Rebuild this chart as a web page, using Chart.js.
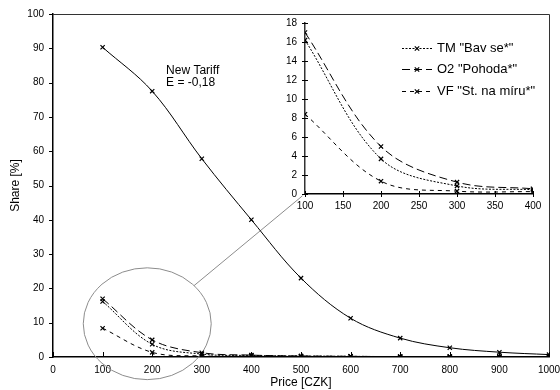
<!DOCTYPE html>
<html>
<head>
<meta charset="utf-8">
<script src="https://cdn.jsdelivr.net/npm/chart.js@4.4.1/dist/chart.umd.min.js"></script>
<style>
  html, body { margin: 0; padding: 0; background: #fff; }
  #wrap { position: relative; width: 560px; height: 390px; }
  #main { position: absolute; left: 0; top: 0; }
  #inset { position: absolute; left: 280px; top: 15px; }
</style>
</head>
<body>
<div id="wrap">
  <canvas id="main" width="560" height="390"></canvas>
  <canvas id="inset" width="268" height="202"></canvas>
</div>
<script>
// price points [CZK]
const prices = [100, 200, 300, 400, 500, 600, 700, 800, 900, 1000];
// share [%]
const newTariff = [90.3, 77.5, 57.8, 40.0, 23.0, 11.3, 5.5, 2.7, 1.4, 0.7];
const tmBavSe   = [16.2, 3.7, 0.85, 0.45, 0.3, 0.2, 0.1, 0.1, 0.1, 0.1];
const o2Pohoda  = [17.0, 5.0, 1.25, 0.55, 0.3, 0.2, 0.1, 0.1, 0.1, 0.1];
const vfNaMiru  = [8.4, 1.35, 0.3, 0.25, 0.1, 0.1, 0.05, 0.05, 0.05, 0.05];

const seriesNames = ['TM "Bav se*"', 'O2 "Pohoda*"', 'VF "St. na míru*"'];
const tariffLabel = ['New Tariff', 'E = -0,18'];
const insetCount = 4; // inset shows 100..400

const FONT = '"Liberation Sans", Arial, sans-serif';
const dashes = [[2, 1.5], [8, 4], [4, 4]];

function pts(xs, ys, n) {
    return ys.slice(0, n || ys.length).map((v, i) => ({ x: xs[i], y: v }));
}

function ds(data, dash) {
    return {
        data: data,
        borderColor: '#000',
        borderWidth: 1,
        borderDash: dash,
        tension: 0.35,
        pointStyle: 'crossRot',
        pointRadius: 3,
        pointBorderWidth: 1.2,
        pointBorderColor: '#000',
        pointBackgroundColor: '#000'
    };
}

// tick marks drawn by hand (inside / outside / crossing)
const tickMarks = {
    id: 'tickMarks',
    afterDraw(chart, args, o) {
        const ctx = chart.ctx;
        const xs = chart.scales.x, ys = chart.scales.y;
        ctx.save();
        ctx.strokeStyle = '#000';
        ctx.lineWidth = 1;
        ctx.beginPath();
        xs.ticks.forEach(t => {
            const px = Math.round(xs.getPixelForValue(t.value)) + 0.5;
            ctx.moveTo(px, ys.bottom - o.xIn);
            ctx.lineTo(px, ys.bottom + o.xOut);
        });
        ys.ticks.forEach(t => {
            const py = Math.round(ys.getPixelForValue(t.value)) + 0.5;
            ctx.moveTo(xs.left - o.yOut, py);
            ctx.lineTo(xs.left + o.yIn, py);
        });
        ctx.stroke();
        ctx.restore();
    }
};

// box, zoom ellipse, connector and text label on main chart
const mainDecor = {
    id: 'mainDecor',
    beforeDatasetsDraw(chart) {
        const ctx = chart.ctx, a = chart.chartArea;
        const xs = chart.scales.x, ys = chart.scales.y;
        ctx.save();
        // top + right frame
        ctx.strokeStyle = '#333';
        ctx.lineWidth = 1;
        ctx.beginPath();
        ctx.moveTo(a.left, a.top + 0.5);
        ctx.lineTo(a.right + 0.5, a.top + 0.5);
        ctx.lineTo(a.right + 0.5, a.bottom);
        ctx.stroke();
        // ellipse around the small tariffs
        const cx = xs.getPixelForValue(190), cy = ys.getPixelForValue(9.7);
        const rx = xs.getPixelForValue(190 + 129) - cx;
        const ry = cy - ys.getPixelForValue(9.7 + 16.3);
        ctx.strokeStyle = '#8c8c8c';
        ctx.beginPath();
        ctx.ellipse(cx, cy, rx, ry, 0, 0, Math.PI * 2);
        ctx.stroke();
        // connector toward the inset
        const ang = -0.75;
        ctx.beginPath();
        ctx.moveTo(cx + rx * Math.cos(ang), cy + ry * Math.sin(ang));
        ctx.lineTo(xs.getPixelForValue(503), ys.getPixelForValue(47));
        ctx.stroke();
        // label
        ctx.fillStyle = '#000';
        ctx.font = '12px ' + FONT;
        ctx.textBaseline = 'middle';
        const tx = xs.getPixelForValue(228);
        ctx.fillText(tariffLabel[0], tx, ys.getPixelForValue(83.4));
        ctx.fillText(tariffLabel[1], tx, ys.getPixelForValue(79.9));
        ctx.restore();
    }
};

// legend in the inset: dashed line with marker + name
const insetLegend = {
    id: 'insetLegend',
    afterDraw(chart, args, o) {
        const ctx = chart.ctx;
        ctx.save();
        ctx.font = '13px ' + FONT;
        ctx.textBaseline = 'middle';
        ctx.fillStyle = '#000';
        ctx.strokeStyle = '#000';
        chart.data.datasets.forEach((d, i) => {
            const y = Math.round(o.top + i * o.gap) + 0.5;
            ctx.lineWidth = 1;
            ctx.setLineDash(d.borderDash);
            ctx.beginPath();
            ctx.moveTo(o.x0, y);
            ctx.lineTo(o.x1, y);
            ctx.stroke();
            ctx.setLineDash([]);
            const mx = (o.x0 + o.x1) / 2, r = 2.2;
            ctx.lineWidth = 1.2;
            ctx.beginPath();
            ctx.moveTo(mx - r, y - r); ctx.lineTo(mx + r, y + r);
            ctx.moveTo(mx + r, y - r); ctx.lineTo(mx - r, y + r);
            ctx.stroke();
            ctx.fillText(seriesNames[i], o.x1 + 5, y);
        });
        ctx.restore();
    }
};

function fixedAxis(size, isX) {
    return function(scale) {
        if (isX) scale.height = size; else scale.width = size;
        scale.paddingLeft = 0;
        scale.paddingRight = 0;
        scale.paddingTop = 0;
        scale.paddingBottom = 0;
    };
}

const plain = v => String(v);

Chart.defaults.font.family = FONT;
Chart.defaults.color = '#000';

new Chart(document.getElementById('main').getContext('2d'), {
    type: 'line',
    data: {
        datasets: [
            ds(pts(prices, newTariff), []),
            ds(pts(prices, tmBavSe), dashes[0]),
            ds(pts(prices, o2Pohoda), dashes[1]),
            ds(pts(prices, vfNaMiru), dashes[2])
        ]
    },
    options: {
        responsive: false,
        animation: false,
        layout: { padding: { top: 14, right: 11, left: 0, bottom: 0 } },
        plugins: {
            legend: { display: false },
            tooltip: { enabled: false },
            tickMarks: { xIn: 5, xOut: 0, yIn: 0, yOut: 4 }
        },
        scales: {
            x: {
                type: 'linear',
                min: 0, max: 1000,
                grid: { display: false, drawTicks: false },
                border: { color: '#000', width: 1.5 },
                ticks: { stepSize: 100, padding: 7, maxRotation: 0, font: { size: 10 }, callback: plain },
                title: { display: true, text: 'Price [CZK]', font: { size: 12 }, padding: { top: 0, bottom: 0 } },
                afterFit: fixedAxis(33, true)
            },
            y: {
                min: 0, max: 100,
                grid: { display: false, drawTicks: false },
                border: { color: '#000', width: 1.5 },
                ticks: { stepSize: 10, padding: 9, font: { size: 10 }, callback: plain },
                title: { display: true, text: 'Share [%]', font: { size: 12 }, padding: { top: 8, bottom: 0 } },
                afterFit: fixedAxis(53, false)
            }
        }
    },
    plugins: [mainDecor, tickMarks]
});

new Chart(document.getElementById('inset').getContext('2d'), {
    type: 'line',
    data: {
        datasets: [
            ds(pts(prices, tmBavSe, insetCount), dashes[0]),
            ds(pts(prices, o2Pohoda, insetCount), dashes[1]),
            ds(pts(prices, vfNaMiru, insetCount), dashes[2])
        ]
    },
    options: {
        responsive: false,
        animation: false,
        layout: { padding: { top: 8, right: 15, left: 0, bottom: 0 } },
        plugins: {
            legend: { display: false },
            tooltip: { enabled: false },
            tickMarks: { xIn: 3, xOut: 3, yIn: 3, yOut: 3 },
            insetLegend: { x0: 122, x1: 152, top: 32.5, gap: 21.5 }
        },
        scales: {
            x: {
                type: 'linear',
                min: 100, max: 400,
                grid: { display: false, drawTicks: false },
                border: { color: '#000', width: 1.5 },
                ticks: { stepSize: 50, padding: 6, maxRotation: 0, font: { size: 10 }, callback: plain },
                afterFit: fixedAxis(23, true)
            },
            y: {
                min: 0, max: 18,
                grid: { display: false, drawTicks: false },
                border: { color: '#333', width: 1.5 },
                ticks: { stepSize: 2, padding: 8, font: { size: 10 }, callback: plain },
                afterFit: fixedAxis(25, false)
            }
        }
    },
    plugins: [tickMarks, insetLegend]
});
</script>
</body>
</html>
